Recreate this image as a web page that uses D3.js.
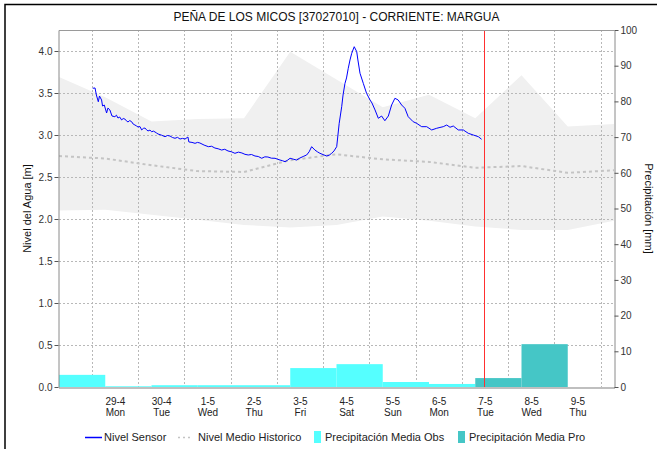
<!DOCTYPE html>
<html>
<head>
<meta charset="utf-8">
<script src="https://cdn.jsdelivr.net/npm/d3@7"></script>
<style>
  body { margin: 0; background: #fff; }
  svg text { font-family: "Liberation Sans", Arial, sans-serif; }
</style>
</head>
<body>
<svg id="chart" width="663" height="449"></svg>
<script>
// ---- data ----
const chartTitle = "PEÑA DE LOS MICOS [37027010] - CORRIENTE: MARGUA";

const levelTicks = [0, 0.5, 1.0, 1.5, 2.0, 2.5, 3.0, 3.5, 4.0];
const rainTicks = [0, 10, 20, 30, 40, 50, 60, 70, 80, 90, 100];

const dayTicks = ["2024-04-29", "2024-04-30", "2024-05-01", "2024-05-02", "2024-05-03", "2024-05-04",
                  "2024-05-05", "2024-05-06", "2024-05-07", "2024-05-08", "2024-05-09"];
const dayLabels = ["29-4", "30-4", "1-5", "2-5", "3-5", "4-5", "5-5", "6-5", "7-5", "8-5", "9-5"];
const weekdayLabels = ["Mon", "Tue", "Wed", "Thu", "Fri", "Sat", "Sun", "Mon", "Tue", "Wed", "Thu"];

// historical envelope and mean level, one value per day at 19:00
const historyTimes = ["2024-04-27T19:00", "2024-04-28T19:00", "2024-04-29T19:00", "2024-04-30T19:00",
                      "2024-05-01T19:00", "2024-05-02T19:00", "2024-05-03T19:00", "2024-05-04T19:00",
                      "2024-05-05T19:00", "2024-05-06T19:00", "2024-05-07T19:00", "2024-05-08T19:00",
                      "2024-05-09T19:00"];
const historyMax  = [3.69, 3.45, 3.16, 3.19, 3.20, 3.99, 3.66, 3.33, 3.48, 3.20, 3.71, 3.10, 3.13];
const historyMin  = [2.10, 2.11, 2.05, 1.99, 1.93, 1.90, 1.93, 2.03, 1.98, 1.91, 1.87, 1.87, 1.98];
const historyMean = [2.75, 2.72, 2.64, 2.57, 2.56, 2.70, 2.77, 2.71, 2.68, 2.61, 2.63, 2.55, 2.58];

// sensor level: hours after 2024-04-28 12:00, level in metres
const sensorStart = "2024-04-28T12:00";
const sensorHours = [0.5, 1.7, 2.4, 3.4, 4.0, 5.1, 5.6, 6.5, 7.7, 8.4, 9.4, 10.5, 12.0, 12.8, 13.6, 14.5,
  15.5, 16.3, 17.2, 18.0, 18.8, 19.7, 20.7, 21.5, 22.4, 23.2, 24.0, 25.0, 25.9, 26.8, 27.6, 28.4, 29.2,
  30.2, 31.1, 32.0, 32.8, 33.6, 34.4, 36.2, 38.0, 39.3, 40.6, 41.9, 43.2, 44.5, 45.8, 47.1, 48.4, 49.9,
  50.4, 52.0, 53.6, 54.9, 56.1, 58.3, 60.5, 62.2, 63.9, 65.6, 67.4, 69.0, 70.7, 72.5, 74.3, 76.1, 77.9,
  79.5, 81.2, 82.9, 84.7, 86.4, 88.2, 89.8, 91.4, 93.2, 95.1, 96.4, 97.7, 99.0, 100.3, 101.6, 102.9,
  104.6, 106.3, 108.0, 109.7, 111.5, 112.8, 114.1, 115.8, 117.1, 118.4, 120.1, 121.9, 123.2, 124.5,
  125.7, 127.1, 128.4, 129.7, 130.4, 131.4, 132.2, 133.1, 134.0, 134.9, 136.2, 137.5, 138.1, 139.2,
  140.9, 142.6, 144.4, 145.4, 147.0, 148.7, 150.4, 152.1, 153.9, 155.6, 157.3, 159.0, 160.8, 162.5,
  164.2, 166.8, 168.6, 171.2, 173.8, 176.4, 179.0, 180.7, 182.4, 184.2, 185.9, 187.6, 190.2, 192.8,
  195.4, 198.0, 200.6, 202.3];
const sensorLevel = [3.556, 3.560, 3.476, 3.396, 3.464, 3.417, 3.345, 3.357, 3.262, 3.321, 3.298, 3.226,
  3.218, 3.236, 3.202, 3.214, 3.179, 3.196, 3.190, 3.168, 3.155, 3.172, 3.158, 3.130, 3.119, 3.108,
  3.095, 3.101, 3.060, 3.079, 3.083, 3.062, 3.048, 3.058, 3.039, 3.046, 3.036, 3.024, 3.012, 2.998,
  2.980, 2.994, 2.988, 2.970, 2.961, 2.972, 2.952, 2.960, 2.952, 2.976, 2.917, 2.912, 2.901, 2.912,
  2.905, 2.880, 2.861, 2.866, 2.845, 2.836, 2.821, 2.830, 2.810, 2.800, 2.782, 2.796, 2.786, 2.770,
  2.762, 2.768, 2.750, 2.744, 2.723, 2.740, 2.738, 2.724, 2.723, 2.712, 2.702, 2.694, 2.682, 2.700,
  2.723, 2.712, 2.702, 2.726, 2.744, 2.762, 2.800, 2.861, 2.821, 2.800, 2.782, 2.766, 2.750, 2.760,
  2.782, 2.810, 2.861, 3.139, 3.337, 3.476, 3.615, 3.679, 3.794, 3.893, 3.973, 4.051, 3.992, 3.893,
  3.735, 3.615, 3.496, 3.417, 3.381, 3.298, 3.199, 3.226, 3.170, 3.226, 3.357, 3.437, 3.417, 3.357,
  3.318, 3.218, 3.158, 3.139, 3.099, 3.099, 3.060, 3.080, 3.090, 3.099, 3.119, 3.092, 3.107, 3.060,
  3.060, 3.020, 3.000, 2.980, 2.949];

// daily mean precipitation, 24 h periods starting at 19:00
const precipStart = ["2024-04-27T19:00", "2024-04-28T19:00", "2024-04-29T19:00", "2024-04-30T19:00",
                     "2024-05-01T19:00", "2024-05-02T19:00", "2024-05-03T19:00", "2024-05-04T19:00",
                     "2024-05-05T19:00", "2024-05-06T19:00", "2024-05-07T19:00"];
const precipObs = [3.4, 0.2, 0.5, 0.5, 0.5, 5.3, 6.4, 1.4, 0.85, null, null];
const precipPro = [null, null, null, null, null, null, null, null, null, 2.5, 12.0];

const nowTime = "2024-05-06T23:30";

const seriesNames = ["Nivel Sensor", "Nivel Medio Historico", "Precipitación Media Obs", "Precipitación Media Pro"];
const seriesColors = ["#0000ff", "#c4c4c4", "#55ffff", "#45c6c6"];

// ---- layout ----
const plot = { left: 59, right: 614, top: 30, bottom: 387 };
const parseT = d3.timeParse("%Y-%m-%dT%H:%M");
const parseD = d3.timeParse("%Y-%m-%d");

const x = d3.scaleTime()
  .domain([parseT("2024-04-27T19:00"), parseT("2024-05-09T19:00")])
  .range([plot.left, plot.right]);
const yLevel = d3.scaleLinear().domain([0, 4.25]).range([plot.bottom, plot.top]);
const yRain = d3.scaleLinear().domain([0, 100]).range([plot.bottom, plot.top]);

const svg = d3.select("#chart");

// outer frame (top and left edges)
svg.append("path").attr("d", "M5,460 V4.5 H657")
  .attr("fill", "none").attr("stroke", "#000").attr("stroke-width", 1.5);

// title
svg.append("text").attr("x", (plot.left + plot.right) / 2).attr("y", 21)
  .attr("text-anchor", "middle").attr("font-size", 12).attr("fill", "#111")
  .text(chartTitle);

const g = svg.append("g");
g.append("clipPath").attr("id", "plotClip").append("rect")
  .attr("x", plot.left).attr("y", plot.top)
  .attr("width", plot.right - plot.left).attr("height", plot.bottom - plot.top);
const body = g.append("g").attr("clip-path", "url(#plotClip)");

// historical envelope
const hist = historyTimes.map((t, i) => ({ t: parseT(t), lo: historyMin[i], hi: historyMax[i], mean: historyMean[i] }));
body.append("path").datum(hist)
  .attr("fill", "#f0f0f0")
  .attr("d", d3.area().x(d => x(d.t)).y0(d => yLevel(d.lo)).y1(d => yLevel(d.hi)));

// grid
const gridStyle = sel => sel.attr("stroke", "#b8b8b8").attr("stroke-width", 1).attr("stroke-dasharray", "2,2");
body.selectAll("line.hgrid").data(levelTicks.filter(v => v > 0)).join("line")
  .attr("class", "hgrid")
  .attr("x1", plot.left).attr("x2", plot.right)
  .attr("y1", d => Math.round(yLevel(d)) + 0.5).attr("y2", d => Math.round(yLevel(d)) + 0.5)
  .call(gridStyle);
const noonLines = dayTicks.map(d => d3.timeHour.offset(parseD(d), -12))
  .concat([d3.timeHour.offset(parseD(dayTicks[dayTicks.length - 1]), 12)]);
body.selectAll("line.vgrid").data(noonLines).join("line")
  .attr("class", "vgrid")
  .attr("y1", plot.top).attr("y2", plot.bottom)
  .attr("x1", d => Math.round(x(d)) + 0.5).attr("x2", d => Math.round(x(d)) + 0.5)
  .call(gridStyle);

// precipitation bars
const bars = precipStart.map((s, i) => ({
  t0: parseT(s), t1: d3.timeDay.offset(parseT(s), 1),
  obs: precipObs[i], pro: precipPro[i]
}));
body.selectAll("rect.obs").data(bars.filter(d => d.obs != null)).join("rect")
  .attr("class", "obs")
  .attr("x", d => x(d.t0)).attr("width", d => x(d.t1) - x(d.t0))
  .attr("y", d => yRain(d.obs)).attr("height", d => yRain(0) - yRain(d.obs))
  .attr("fill", seriesColors[2]);
body.selectAll("rect.pro").data(bars.filter(d => d.pro != null)).join("rect")
  .attr("class", "pro")
  .attr("x", d => x(d.t0)).attr("width", d => x(d.t1) - x(d.t0))
  .attr("y", d => yRain(d.pro)).attr("height", d => yRain(0) - yRain(d.pro))
  .attr("fill", seriesColors[3]);

// historical mean
body.append("path").datum(hist)
  .attr("fill", "none").attr("stroke", seriesColors[1]).attr("stroke-width", 2)
  .attr("stroke-dasharray", "3,3")
  .attr("d", d3.line().x(d => x(d.t)).y(d => yLevel(d.mean)));

// sensor level
const t0 = parseT(sensorStart);
const sensor = sensorHours.map((h, i) => ({ t: new Date(+t0 + h * 3600e3), v: sensorLevel[i] }));
body.append("path").datum(sensor)
  .attr("fill", "none").attr("stroke", seriesColors[0]).attr("stroke-width", 1)
  .attr("d", d3.line().x(d => x(d.t)).y(d => yLevel(d.v)));

// current time marker
const nowX = Math.round(x(parseT(nowTime))) + 0.5;
body.append("line").attr("x1", nowX).attr("x2", nowX).attr("y1", plot.top).attr("y2", plot.bottom)
  .attr("stroke", "#ff3030").attr("stroke-width", 1);

// plot outline: top edge
g.append("line").attr("x1", plot.left).attr("x2", plot.right).attr("y1", plot.top + 0.5).attr("y2", plot.top + 0.5)
  .attr("stroke", "#9a9a9a");

// left axis
const leftAxis = g.append("g").attr("transform", `translate(${plot.left - 0.5},0)`)
  .call(d3.axisLeft(yLevel).tickValues(levelTicks).tickFormat(d3.format(".1f")).tickSize(4).tickSizeOuter(0));
leftAxis.select(".domain").attr("stroke", "#8a8a8a");
leftAxis.selectAll(".tick line").attr("stroke", "#555");
leftAxis.selectAll("text").attr("font-size", 10).attr("fill", "#333")
  .attr("font-family", "Liberation Sans, Arial, sans-serif").attr("x", -6);

// right axis
const rightAxis = g.append("g").attr("transform", `translate(${plot.right + 0.5},0)`)
  .call(d3.axisRight(yRain).tickValues(rainTicks).tickSize(4).tickSizeOuter(0));
rightAxis.select(".domain").attr("stroke", "#8a8a8a");
rightAxis.selectAll(".tick line").attr("stroke", "#555");
rightAxis.selectAll("text").attr("font-size", 10).attr("fill", "#333")
  .attr("font-family", "Liberation Sans, Arial, sans-serif").attr("x", 6);

// bottom axis: dotted baseline with two-line day labels
const tickDates = dayTicks.map(parseD);
const bottomAxis = g.append("g").attr("transform", `translate(0,${plot.bottom + 0.5})`)
  .call(d3.axisBottom(x).tickValues(tickDates).tickSize(0).tickFormat((d, i) => dayLabels[i]));
bottomAxis.select(".domain").attr("stroke", "#555").attr("stroke-width", 1.5).attr("stroke-dasharray", "1,1");
bottomAxis.selectAll(".tick text").each(function (d, i) {
  const t = d3.select(this).text(null).attr("font-size", 10).attr("fill", "#222")
    .attr("font-family", "Liberation Sans, Arial, sans-serif").attr("dy", null).attr("y", 0);
  t.append("tspan").attr("x", 0).attr("y", 17).text(dayLabels[i]);
  t.append("tspan").attr("x", 0).attr("y", 28).text(weekdayLabels[i]);
});

// axis titles
svg.append("text").attr("transform", `translate(31,${(plot.top + plot.bottom) / 2}) rotate(-90)`)
  .attr("text-anchor", "middle").attr("font-size", 11).attr("fill", "#111")
  .text("Nivel del Agua [m]");
svg.append("text").attr("transform", `translate(645,${(plot.top + plot.bottom) / 2}) rotate(90)`)
  .attr("text-anchor", "middle").attr("font-size", 11).attr("fill", "#111")
  .text("Precipitación [mm]");

// legend
const legend = svg.append("g").attr("transform", "translate(0,437)");
const items = [
  { x: 85, kind: "line" }, { x: 178, kind: "dash" }, { x: 314, kind: "box" }, { x: 458, kind: "box" }
];
items.forEach((it, i) => {
  let tx;
  if (it.kind === "line") {
    legend.append("line").attr("x1", it.x).attr("x2", it.x + 17).attr("y1", 0.5).attr("y2", 0.5)
      .attr("stroke", seriesColors[i]).attr("stroke-width", 1.5);
    tx = it.x + 19;
  } else if (it.kind === "dash") {
    legend.append("line").attr("x1", it.x).attr("x2", it.x + 15).attr("y1", 0.5).attr("y2", 0.5)
      .attr("stroke", seriesColors[i]).attr("stroke-width", 1.5).attr("stroke-dasharray", "2,3");
    tx = it.x + 20;
  } else {
    legend.append("rect").attr("x", it.x).attr("y", -6).attr("width", 7).attr("height", 12)
      .attr("fill", seriesColors[i]);
    tx = it.x + 11;
  }
  legend.append("text").attr("x", tx).attr("y", 4).attr("font-size", 11).attr("fill", "#222")
    .text(seriesNames[i]);
});
</script>
</body>
</html>
